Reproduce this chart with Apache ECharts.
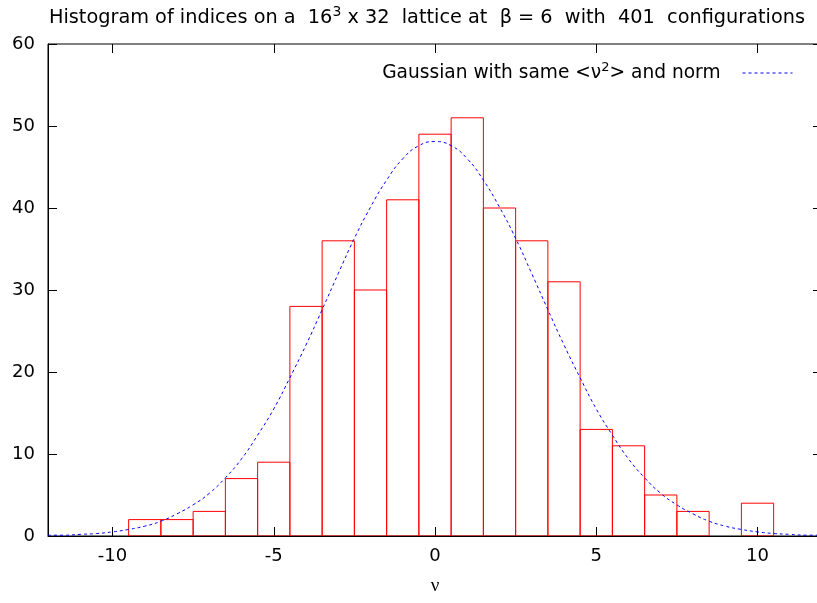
<!DOCTYPE html>
<html>
<head>
<meta charset="utf-8">
<script src="https://cdn.jsdelivr.net/npm/echarts@6/dist/echarts.min.js"></script>
<style>html,body{margin:0;padding:0;background:#fff;overflow:hidden}#c{width:830px;height:603px}</style>
</head>
<body>
<div id="c"></div>
<script>
// Histogram bins (centers) and counts
const binCenters = [-10, -9, -8, -7, -6, -5, -4, -3, -2, -1, 0, 1, 2, 3, 4, 5, 6, 7, 8, 9, 10];
const counts     = [  0,  2,  2,  3,  7,  9, 28, 36, 30, 41, 49, 51, 40, 36, 31, 13, 11,  5,  3,  0,  4];
// Gaussian curve
const gaussX = [-12, -11.5, -11, -10.5, -10, -9.5, -9, -8.5, -8, -7.5, -7, -6.5, -6, -5.5, -5, -4.5, -4, -3.5, -3, -2.5, -2, -1.5, -1, -0.5, 0,
                0.5, 1, 1.5, 2, 2.5, 3, 3.5, 4, 4.5, 5, 5.5, 6, 6.5, 7, 7.5, 8, 8.5, 9, 9.5, 10, 10.5, 11, 11.5, 12];
const gaussY = [0.1, 0.1, 0.2, 0.3, 0.5, 0.8, 1.2, 1.8, 2.7, 3.8, 5.2, 7.1, 9.4, 12.3, 15.5, 19.3, 23.3, 27.6, 32.0, 36.3, 40.1, 43.4, 46.0, 47.6, 48.1,
                47.6, 46.0, 43.4, 40.1, 36.3, 32.0, 27.6, 23.3, 19.3, 15.5, 12.3, 9.4, 7.1, 5.2, 3.8, 2.7, 1.8, 1.2, 0.8, 0.5, 0.3, 0.2, 0.1, 0.1];
const xTicks = [-10, -5, 0, 5, 10];

const FONT = 'DejaVu Sans';
const histData = binCenters.map((x, i) => [x, counts[i]]);
const gaussData = gaussX.map((x, i) => [x, gaussY[i]]);

const chart = echarts.init(document.getElementById('c'), null, {renderer: 'canvas'});
const tickStyle = {show: true, inside: true, length: 9, lineStyle: {color: '#000', width: 1}};
chart.setOption({
  animation: false,
  backgroundColor: '#fff',
  textStyle: {fontFamily: FONT},
  title: {
    text: 'Histogram of indices on a  16{sup|3} x 32  lattice at  β = 6  with  401  configurations',
    left: 422, top: 0, textAlign: 'center',
    textStyle: {
      fontFamily: FONT, fontSize: 19.3, fontWeight: 'normal', color: '#000',
      rich: {sup: {fontFamily: FONT, fontSize: 14, color: '#000', padding: [0, 0, 11, 0]}}
    }
  },
  legend: {
    right: 32, top: 56, align: 'right', itemWidth: 50, itemHeight: 14,
    data: [{name: 'gauss'}],
    itemStyle: {opacity: 0},
    lineStyle: {color: '#0000ff', width: 1, type: [3, 3]},
    formatter: () => 'Gaussian with same <ν{sup|2}> and norm{gap|}',
    textStyle: {
      fontFamily: FONT, fontSize: 18.6, color: '#000',
      rich: {sup: {fontFamily: FONT, fontSize: 13, color: '#000', padding: [0, 0, 11, 0]}, gap: {width: 17}}
    }
  },
  grid: {left: 48, top: 44, width: 774, height: 492, show: true, borderColor: '#000', borderWidth: 1},
  xAxis: [{
    type: 'value', min: -12, max: 12, position: 'bottom',
    name: 'ν', nameLocation: 'middle', nameGap: 41,
    nameTextStyle: {fontFamily: 'Liberation Serif', fontSize: 19, color: '#000'},
    axisLine: {show: true, onZero: false, lineStyle: {color: '#000', width: 1}},
    axisTick: Object.assign({customValues: xTicks}, tickStyle),
    axisLabel: {customValues: xTicks, fontFamily: FONT, fontSize: 18, color: '#000', margin: 11},
    splitLine: {show: false}
  }, {
    type: 'value', min: -12, max: 12, position: 'top',
    axisLine: {show: false, onZero: false},
    axisTick: Object.assign({customValues: xTicks}, tickStyle),
    axisLabel: {show: false},
    splitLine: {show: false}
  }],
  yAxis: [{
    type: 'value', min: 0, max: 60, interval: 10, position: 'left',
    axisLine: {show: true, onZero: false, lineStyle: {color: '#000', width: 1}},
    axisTick: tickStyle,
    axisLabel: {fontFamily: FONT, fontSize: 18, color: '#000', margin: 13},
    splitLine: {show: false}
  }, {
    type: 'value', min: 0, max: 60, interval: 10, position: 'right',
    axisLine: {show: false, onZero: false},
    axisTick: tickStyle,
    axisLabel: {show: false},
    splitLine: {show: false}
  }],
  series: [{
    type: 'custom', name: 'hist', xAxisIndex: 0, yAxisIndex: 0,
    data: histData, encode: {x: 0, y: 1}, clip: true,
    renderItem: function (params, api) {
      const x = api.value(0), v = api.value(1);
      if (!v) return null;
      const p1 = api.coord([x - 0.5, v]);
      const p2 = api.coord([x + 0.5, 0]);
      return {type: 'rect', shape: {x: p1[0], y: p1[1], width: p2[0] - p1[0], height: p2[1] - p1[1]},
              style: {fill: 'none', stroke: '#ff0000', lineWidth: 1}};
    }
  }, {
    type: 'line', name: 'gauss', xAxisIndex: 0, yAxisIndex: 0,
    data: gaussData, smooth: true, showSymbol: false, symbol: 'none',
    lineStyle: {color: '#0000ff', width: 1, type: [3, 3]},
    itemStyle: {color: '#0000ff'}
  }]
});
</script>
</body>
</html>
